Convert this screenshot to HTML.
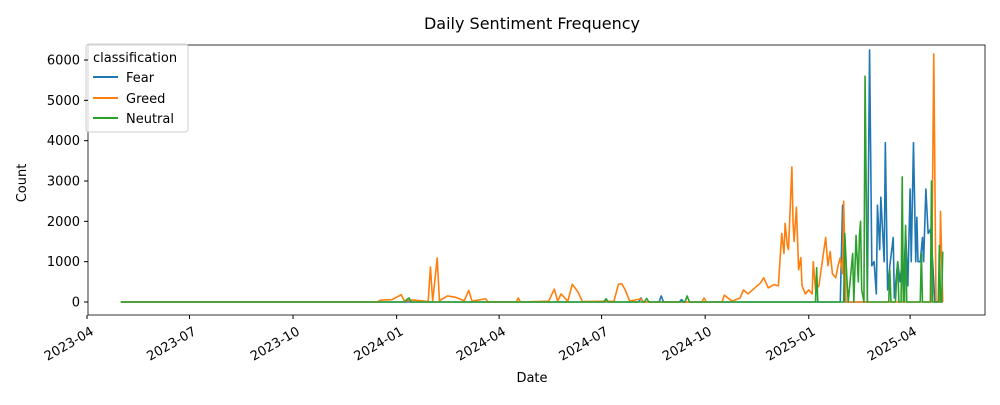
<!DOCTYPE html>
<html><head><meta charset="utf-8">
<style>
body{margin:0;background:#fff;font-family:"Liberation Sans","DejaVu Sans",sans-serif;}
svg text{font-family:"DejaVu Sans","Liberation Sans",sans-serif;}
</style></head>
<body>
<svg id="chart" width="1000" height="400" viewBox="0 0 1000 400" xmlns="http://www.w3.org/2000/svg">
<rect width="1000" height="400" fill="#fff"/>
<text x="532" y="29" font-size="16" text-anchor="middle" fill="#000">Daily Sentiment Frequency</text>
<text x="532" y="382" font-size="13" text-anchor="middle" fill="#000">Date</text>
<text x="0" y="0" font-size="13" text-anchor="middle" fill="#000" transform="translate(26,183) rotate(-90)">Count</text>
<g id="plot"></g>
<rect x="88" y="45" width="897" height="270" fill="none" stroke="#000" stroke-width="0.8"/>
<g id="legend">
<rect x="86" y="44" width="102" height="88" rx="3" fill="#fff" fill-opacity="0.8" stroke="#ccc"/>
<text x="93" y="62" font-size="13" fill="#000">classification</text>
<g><line x1="93" x2="118" y1="77" y2="77" stroke="#1f77b4" stroke-width="2"/><text x="126" y="82" font-size="13">Fear</text></g>
<g><line x1="93" x2="118" y1="98" y2="98" stroke="#ff7f0e" stroke-width="2"/><text x="126" y="103" font-size="13">Greed</text></g>
<g><line x1="93" x2="118" y1="118" y2="118" stroke="#2ca02c" stroke-width="2"/><text x="126" y="123" font-size="13">Neutral</text></g>
</g>
</svg>
<script>
const yTicks=[0,1000,2000,3000,4000,5000,6000];
const xTickDates=["2023-04-01","2023-07-01","2023-10-01","2024-01-01","2024-04-01","2024-07-01","2024-10-01","2025-01-01","2025-04-01"];
const xTickLabels=["2023-04","2023-07","2023-10","2024-01","2024-04","2024-07","2024-10","2025-01","2025-04"];
const greedDates=["2023-05-01","2023-12-15","2023-12-17","2023-12-20","2023-12-28","2024-01-05","2024-01-08","2024-01-15","2024-01-29","2024-01-31","2024-02-02","2024-02-06","2024-02-08","2024-02-15","2024-02-22","2024-03-01","2024-03-05","2024-03-08","2024-03-20","2024-03-22","2024-04-16","2024-04-18","2024-04-20","2024-05-15","2024-05-20","2024-05-23","2024-05-26","2024-06-01","2024-06-05","2024-06-10","2024-06-14","2024-07-12","2024-07-16","2024-07-19","2024-07-22","2024-07-26","2024-08-05","2024-08-07","2024-09-28","2024-09-30","2024-10-02","2024-10-16","2024-10-18","2024-10-25","2024-11-01","2024-11-04","2024-11-08","2024-11-19","2024-11-22","2024-11-26","2024-12-01","2024-12-05","2024-12-08","2024-12-10","2024-12-11","2024-12-13","2024-12-14","2024-12-17","2024-12-18","2024-12-19","2024-12-21","2024-12-23","2024-12-25","2024-12-26","2024-12-29","2025-01-01","2025-01-04","2025-01-05","2025-01-07","2025-01-10","2025-01-16","2025-01-18","2025-01-20","2025-01-22","2025-01-25","2025-01-27","2025-01-29","2025-01-31","2025-02-01","2025-02-03","2025-04-20","2025-04-22","2025-04-24","2025-04-27","2025-04-28","2025-04-30"];
const greedVals=[0,0,40,50,60,180,20,50,10,870,20,1090,30,150,120,30,290,20,80,0,0,100,0,20,320,20,200,20,440,250,10,20,440,450,300,20,80,0,0,100,0,0,170,20,100,300,200,470,600,350,430,400,1700,1200,1950,1400,1300,3350,2000,1500,2350,800,1100,400,200,300,200,1000,300,400,1600,900,1250,700,600,900,1100,700,2500,0,0,6150,0,0,2250,0];
const fearDates=["2023-05-01","2024-08-03","2024-08-05","2024-08-07","2024-08-21","2024-08-23","2024-08-25","2024-09-08","2024-09-10","2024-09-12","2025-01-29","2025-01-31","2025-02-02","2025-02-22","2025-02-24","2025-02-26","2025-02-28","2025-03-02","2025-03-03","2025-03-05","2025-03-06","2025-03-09","2025-03-10","2025-03-12","2025-03-14","2025-03-17","2025-03-18","2025-03-21","2025-03-23","2025-03-25","2025-03-26","2025-03-28","2025-03-30","2025-04-01","2025-04-02","2025-04-04","2025-04-06","2025-04-07","2025-04-08","2025-04-10","2025-04-12","2025-04-13","2025-04-15","2025-04-17","2025-04-19","2025-04-21","2025-04-23","2025-04-30"];
const fearVals=[0,0,100,0,0,150,0,0,60,0,0,2400,0,0,6250,900,1000,200,2400,1300,2600,1000,3950,300,900,1600,100,1000,500,1000,200,1750,400,2800,1000,3950,1000,2100,1000,1000,1600,1000,2800,1700,1800,1000,0,0];
const neutralDates=["2023-05-01","2024-01-08","2024-01-10","2024-01-12","2024-01-14","2024-07-03","2024-07-05","2024-07-07","2024-08-08","2024-08-10","2024-08-12","2024-09-13","2024-09-15","2024-09-17","2025-01-07","2025-01-08","2025-01-09","2025-02-01","2025-02-02","2025-02-04","2025-02-05","2025-02-07","2025-02-09","2025-02-10","2025-02-12","2025-02-14","2025-02-15","2025-02-16","2025-02-17","2025-02-19","2025-02-20","2025-02-22","2025-03-13","2025-03-14","2025-03-15","2025-03-19","2025-03-20","2025-03-21","2025-03-22","2025-03-24","2025-03-25","2025-03-26","2025-03-27","2025-03-28","2025-03-29","2025-04-10","2025-04-11","2025-04-12","2025-04-19","2025-04-20","2025-04-21","2025-04-26","2025-04-27","2025-04-28","2025-04-29","2025-04-30"];
const neutralVals=[0,0,60,100,0,0,80,0,0,90,0,0,150,0,0,850,0,0,1700,500,0,600,1200,0,1650,500,1650,2000,300,0,5600,0,0,800,0,0,600,1000,0,0,3100,0,0,1900,0,0,1200,0,0,3000,0,0,1400,0,0,1250];

const NS="http://www.w3.org/2000/svg";
const X0=Date.UTC(2023,3,1), PX0=87, PXPD=1.126;
function d2t(s){const p=s.split("-");return Date.UTC(+p[0],+p[1]-1,+p[2]);}
function xScale(s){return PX0+(d2t(s)-X0)/86400000*PXPD;}
function yScale(v){return 302-v*0.04033;}
const svg=document.getElementById("chart"), plot=document.getElementById("plot");
yTicks.forEach(v=>{
  const l=document.createElementNS(NS,"line");
  
  
  l.setAttribute("x1",84);l.setAttribute("x2",88);l.setAttribute("y1",yScale(v));l.setAttribute("y2",yScale(v));l.setAttribute("stroke","#000");
  svg.appendChild(l);
  const t=document.createElementNS(NS,"text");
  
  
  t.setAttribute("x",80);t.setAttribute("y",yScale(v)+4.5);t.setAttribute("font-size","13");t.setAttribute("text-anchor","end");
  t.textContent=v;svg.appendChild(t);
});
xTickDates.forEach((d,i)=>{
  const x=xScale(d);
  const l=document.createElementNS(NS,"line");
  
  
  l.setAttribute("x1",x);l.setAttribute("x2",x);l.setAttribute("y1",315);l.setAttribute("y2",319);l.setAttribute("stroke","#000");
  svg.appendChild(l);
  const t=document.createElementNS(NS,"text");
  
  
  t.setAttribute("font-size","13");t.setAttribute("text-anchor","end");
  t.setAttribute("transform","translate("+(x+3)+",326) rotate(-30)");
  t.setAttribute("dy","0.7em");
  t.textContent=xTickLabels[i];svg.appendChild(t);
});
function series(dates,vals,color,name){
  const pts=dates.map((d,i)=>xScale(d).toFixed(2)+","+yScale(vals[i]).toFixed(2));
  const p=document.createElementNS(NS,"polyline");
  
  
  p.setAttribute("points",pts.join(" "));p.setAttribute("fill","none");p.setAttribute("stroke",color);p.setAttribute("stroke-width","1.6");p.setAttribute("stroke-linejoin","round");
  plot.appendChild(p);
}
series(fearDates,fearVals,"#1f77b4","fear-line");
series(greedDates,greedVals,"#ff7f0e","greed-line");
series(neutralDates,neutralVals,"#2ca02c","neutral-line");
</script>
</body></html>
